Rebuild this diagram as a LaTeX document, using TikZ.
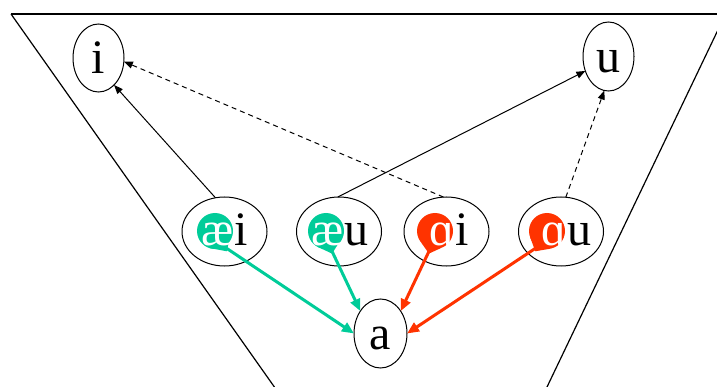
\documentclass[tikz,border=0pt]{standalone}
\usepackage{fontspec}
\setmainfont{Liberation Serif}
\usetikzlibrary{shapes.geometric,arrows.meta,calc}
\definecolor{vgreen}{RGB}{0,204,153}
\definecolor{vred}{RGB}{255,51,0}
\begin{document}
\begin{tikzpicture}[x=1pt,y=-1pt,
  every node/.style={inner sep=0pt, outer sep=0pt},
  vow/.style={draw, ellipse, line width=1pt, font=\fontsize{48}{52}\selectfont, text height=32pt, text depth=0pt},
  dip/.style={draw, ellipse, line width=1pt, minimum width=85pt, minimum height=69pt},
  ltr/.style={font=\fontsize{48}{52}\selectfont},
  dotg/.style={circle, minimum size=36pt, fill=vgreen},
  dotr/.style={circle, minimum size=36pt, fill=vred},
  blk/.style={line width=1pt, -{Triangle[length=9pt,width=7pt]}},
  dsh/.style={blk, dash pattern=on 5pt off 4pt},
  gar/.style={line width=3pt, vgreen, -{Triangle[length=12pt,width=10pt]}},
  rar/.style={gar, vred},
  frame/.style={line width=1.2pt}]
\useasboundingbox (0,0) rectangle (717,387);
\clip (0,0) rectangle (717,387);
% frame
\draw[frame] (11,14) -- (740,14);
\draw[frame] (11,14) -- (274.4,387);
\draw[frame] (725.6,14) -- (547,387);
% vowels
\node[vow, minimum width=51pt, minimum height=68pt] (i) at (98.5,58) {i};
\node[vow, minimum width=51pt, minimum height=69pt] (u) at (608.5,56.5) {u};
\node[vow, minimum width=53pt, minimum height=69pt] (a) at (380.5,333.5) {a};
% diphthongs
\node[dip] (ei) at (224.5,231.5) {};
\node[dip] (eu) at (339,231.5) {};
\node[dip] (ai) at (446.5,231.5) {};
\node[dip] (au) at (561,231.5) {};
% black arrows
\draw[blk] (ei.105) -- (i.-60);
\draw[blk] (eu.92) -- (u.212);
\draw[dsh] (ai.95) -- (i.-8);
\draw[dsh] (au.82) -- (u.-97);
% colour dots
\node[dotg] (eic) at (215,231) {};
\node[dotg] (euc) at (326,231) {};
\node[dotr] (aic) at (435,231) {};
\node[dotr] (auc) at (547,231) {};
% tails of the dots
\fill[vgreen] (eic.-40) -- ($(eic.center)!1.3!(eic.-60)$) -- (eic.-110) -- cycle;
\fill[vgreen] (euc.-50) -- ($(euc.center)!1.3!(euc.-75)$) -- (euc.-120) -- cycle;
\fill[vred] (aic.-70) -- ($(aic.center)!1.3!(aic.-105)$) -- (aic.-140) -- cycle;
\fill[vred] (auc.-80) -- ($(auc.center)!1.3!(auc.-120)$) -- (auc.-160) -- cycle;
% coloured arrows
\draw[gar] (eic.-60) -- (a.180);
\draw[gar] (euc.-75) -- (a.132);
\draw[rar] (aic.-105) -- (a.48);
\draw[rar] (auc.-120) -- (a.0);
% letters
\node[ltr, anchor=base east, text=white] (eia) at (234,246) {æ};
\node[ltr, anchor=base west] (eib) at (234,246) {i};
\node[ltr, anchor=base east, text=white] (eua) at (344,246) {æ};
\node[ltr, anchor=base west] (eub) at (344,246) {u};
\node[ltr, anchor=base east, text=white] (aia) at (455,246) {ɑ};
\node[ltr, anchor=base west] (aib) at (455,246) {i};
\node[ltr, anchor=base east, text=white] (aua) at (567,246) {ɑ};
\node[ltr, anchor=base west] (aub) at (567,246) {u};
\end{tikzpicture}
\end{document}
